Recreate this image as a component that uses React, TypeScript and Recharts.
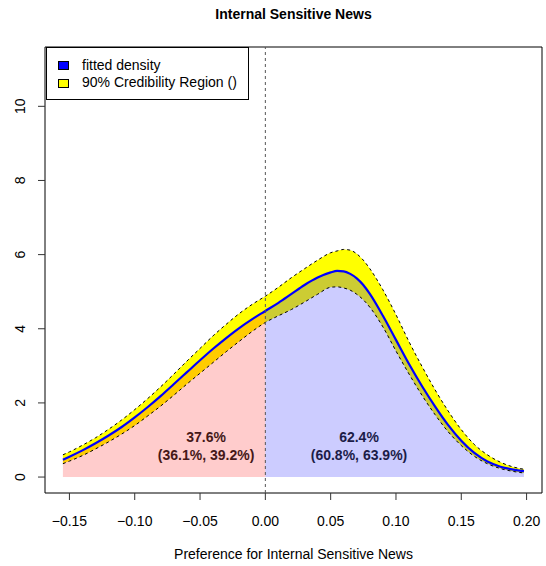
import React from 'react';
import { ComposedChart, Area, Line, XAxis, YAxis, ReferenceLine, ReferenceArea, ReferenceDot } from 'recharts';

const FONT = '"Liberation Sans", Arial, Helvetica, sans-serif';

// x positions along the preference axis
const xs = [-0.155, -0.15, -0.14, -0.13, -0.12, -0.11, -0.10, -0.09, -0.08, -0.07, -0.06, -0.05, -0.04, -0.03, -0.02, -0.01, 0.0, 0.01, 0.02, 0.03, 0.04, 0.05, 0.055, 0.06, 0.065, 0.07, 0.075, 0.08, 0.09, 0.10, 0.11, 0.12, 0.13, 0.14, 0.15, 0.16, 0.17, 0.18, 0.19, 0.198];
const density = [0.47, 0.55, 0.72, 0.91, 1.12, 1.35, 1.61, 1.89, 2.19, 2.51, 2.83, 3.15, 3.46, 3.75, 4.02, 4.26, 4.48, 4.70, 4.94, 5.18, 5.38, 5.52, 5.56, 5.55, 5.48, 5.36, 5.18, 4.94, 4.35, 3.70, 3.05, 2.45, 1.90, 1.40, 0.98, 0.65, 0.42, 0.28, 0.20, 0.16];
const lower = [0.36, 0.43, 0.58, 0.76, 0.95, 1.16, 1.39, 1.65, 1.92, 2.21, 2.51, 2.80, 3.09, 3.38, 3.66, 3.93, 4.17, 4.35, 4.52, 4.72, 4.93, 5.12, 5.13, 5.10, 5.04, 4.93, 4.78, 4.58, 4.05, 3.40, 2.78, 2.20, 1.68, 1.22, 0.85, 0.56, 0.36, 0.23, 0.15, 0.11];
const upper = [0.60, 0.68, 0.86, 1.06, 1.29, 1.54, 1.82, 2.12, 2.44, 2.78, 3.13, 3.47, 3.81, 4.12, 4.41, 4.66, 4.88, 5.12, 5.38, 5.62, 5.85, 6.05, 6.10, 6.14, 6.12, 6.02, 5.85, 5.62, 5.05, 4.38, 3.65, 2.98, 2.35, 1.78, 1.28, 0.88, 0.60, 0.40, 0.27, 0.21];

const xTicks = [-0.15, -0.1, -0.05, 0, 0.05, 0.1, 0.15, 0.2];
const yTicks = [0, 2, 4, 6, 8, 10];

const leftShare = ['37.6%', '(36.1%, 39.2%)'];
const rightShare = ['62.4%', '(60.8%, 63.9%)'];

const X_MIN = -0.1687, X_MAX = 0.2118;
const Y_MIN = -0.43, Y_MAX = 11.6;

const data = xs.map((x, i) => ({
  x,
  d: density[i],
  lo: lower[i],
  hi: upper[i],
  band: [lower[i], upper[i]],
  neg: x <= 0 ? density[i] : null,
  pos: x >= 0 ? density[i] : null,
}));

const fmt = (v: number) => v.toFixed(2).replace('-', '\u2212');

const XTick = (p: any) => (
  <text x={p.x} y={p.y + 24} textAnchor="middle" fontSize={14} fontFamily={FONT} fill="#000">
    {fmt(p.payload.value)}
  </text>
);

const YTick = (p: any) => (
  <text x={p.x - 11} y={p.y} transform={`rotate(-90, ${p.x - 11}, ${p.y})`} textAnchor="middle" fontSize={14} fontFamily={FONT} fill="#000">
    {p.payload.value}
  </text>
);

const lbl = (value: string, color: string) => ({ value, position: 'center' as const, fill: color, fontSize: 14, fontWeight: 'bold', fontFamily: FONT });

export default function App() {
  return (
    <div style={{ position: 'absolute', left: 0, top: 0, width: 546, height: 566, background: '#fff' }}>
      <ComposedChart width={546} height={566} data={data} margin={{ top: 47, right: 4, bottom: 33, left: 5 }}>
        <XAxis dataKey="x" type="number" domain={[X_MIN, X_MAX]} allowDataOverflow ticks={xTicks} height={40}
          axisLine={false} tickSize={7} tickLine={{ stroke: '#333' }} tick={<XTick />} interval={0} />
        <YAxis type="number" domain={[Y_MIN, Y_MAX]} allowDataOverflow ticks={yTicks} width={40}
          axisLine={false} tickSize={7} tickLine={{ stroke: '#333' }} tick={<YTick />} interval={0} />
        <Area dataKey="band" type="monotone" fill="#FFFF00" fillOpacity={1} stroke="none" isAnimationActive={false} />
        <Area dataKey="neg" type="monotone" fill="#FF0000" fillOpacity={0.2} stroke="none" isAnimationActive={false} />
        <Area dataKey="pos" type="monotone" fill="#0000FF" fillOpacity={0.2} stroke="none" isAnimationActive={false} />
        <Line dataKey="lo" type="monotone" stroke="#000" strokeWidth={1} strokeDasharray="3 3" dot={false} activeDot={false} isAnimationActive={false} />
        <Line dataKey="hi" type="monotone" stroke="#000" strokeWidth={1} strokeDasharray="3 3" dot={false} activeDot={false} isAnimationActive={false} />
        <Line dataKey="d" type="monotone" stroke="#0000FF" strokeWidth={2.2} dot={false} activeDot={false} isAnimationActive={false} />
        <ReferenceLine x={0} stroke="#555" strokeDasharray="3 3" />
        <ReferenceDot x={-0.0454} y={1.08} r={0} label={lbl(leftShare[0], '#451818')} />
        <ReferenceDot x={-0.0454} y={0.59} r={0} label={lbl(leftShare[1], '#451818')} />
        <ReferenceDot x={0.0717} y={1.08} r={0} label={lbl(rightShare[0], '#1c1c48')} />
        <ReferenceDot x={0.0717} y={0.59} r={0} label={lbl(rightShare[1], '#1c1c48')} />
        <ReferenceArea x1={X_MIN} x2={X_MAX} y1={Y_MIN} y2={Y_MAX} fill="none" stroke="#000" strokeWidth={1} fillOpacity={0} />
      </ComposedChart>
      <svg width={546} height={566} style={{ position: 'absolute', left: 0, top: 0, pointerEvents: 'none' }}>
        <text x={293.5} y={19} textAnchor="middle" fontSize={14} fontWeight="bold" fontFamily={FONT}>Internal Sensitive News</text>
        <text x={293.5} y={559} textAnchor="middle" fontSize={14} fontFamily={FONT}>Preference for Internal Sensitive News</text>
        <rect x={46.5} y={47.5} width={202} height={52} fill="#fff" stroke="#000" strokeWidth={1} />
        <rect x={58.5} y={61.5} width={10} height={8} fill="#0000FF" stroke="#000" strokeWidth={1} />
        <text x={82} y={70} fontSize={14} fontFamily={FONT}>fitted density</text>
        <rect x={58.5} y={79.5} width={10} height={8} fill="#FFFF00" stroke="#000" strokeWidth={1} />
        <text x={82} y={87} fontSize={14} fontFamily={FONT}>90% Credibility Region ()</text>
      </svg>
    </div>
  );
}
